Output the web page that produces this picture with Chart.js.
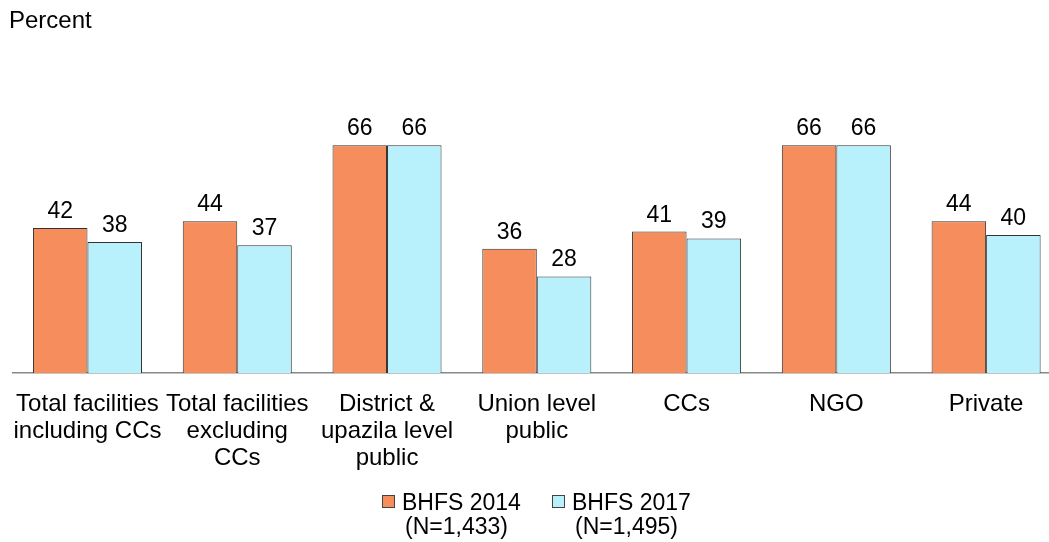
<!DOCTYPE html>
<html><head><meta charset="utf-8">
<script src="https://cdn.jsdelivr.net/npm/chart.js@4/dist/chart.umd.min.js"></script>
<style>html,body{margin:0;padding:0;background:#fff;overflow:hidden;}#wrap{width:1049px;height:542px;position:relative;overflow:hidden;}</style>
</head><body><div id="wrap"><canvas id="c" width="1062" height="542"></canvas></div>
<script>
const categories = [
  ["Total facilities","including CCs"],
  ["Total facilities","excluding","CCs"],
  ["District &","upazila level","public"],
  ["Union level","public"],
  ["CCs"],
  ["NGO"],
  ["Private"]
];
const series2014 = [42, 44, 66, 36, 41, 66, 44];
const series2017 = [38, 37, 66, 28, 39, 66, 40];
const seriesLabels = [["BHFS 2014","(N=1,433)"],["BHFS 2017","(N=1,495)"]];
const colors = ["#F58D5C", "#B8F0FC"];
const FONT = "'Liberation Sans', Arial, sans-serif";

const extras = {
  id: 'extras',
  afterDatasetsDraw(chart) {
    const ctx = chart.ctx;
    ctx.save();
    ctx.fillStyle = '#000';
    ctx.font = '23px ' + FONT;
    ctx.textAlign = 'center';
    ctx.textBaseline = 'alphabetic';
    chart.data.datasets.forEach((ds, di) => {
      chart.getDatasetMeta(di).data.forEach((bar, i) => {
        ctx.fillText(String(ds.data[i]), bar.x, bar.y - 10);
      });
    });
    // y title
    ctx.textAlign = 'left';
    ctx.font = '24px ' + FONT;
    ctx.fillText('Percent', 9, 28);
    // legend
    ctx.font = '23px ' + FONT;
    const items = [{x: 382, tx: 402}, {x: 552, tx: 572}];
    items.forEach((it, k) => {
      ctx.fillStyle = colors[k];
      ctx.strokeStyle = '#444';
      ctx.lineWidth = 1;
      ctx.fillRect(it.x + 0.5, 495.5, 12, 12);
      ctx.strokeRect(it.x + 0.5, 495.5, 12, 12);
      ctx.fillStyle = '#000';
      ctx.fillText(seriesLabels[k][0], it.tx, 510);
      ctx.fillText(seriesLabels[k][1], it.tx + 3, 534);
    });
    ctx.restore();
  }
};

new Chart(document.getElementById('c'), {
  type: 'bar',
  data: {
    labels: categories,
    datasets: [
      {label: seriesLabels[0].join(' '), data: series2014, backgroundColor: colors[0], borderColor: '#333', borderWidth: 1, borderSkipped: 'bottom'},
      {label: seriesLabels[1].join(' '), data: series2017, backgroundColor: colors[1], borderColor: '#333', borderWidth: 1, borderSkipped: 'bottom'}
    ]
  },
  options: {
    responsive: false,
    animation: false,
    layout: {padding: {left: 12.6, right: 1, top: 97, bottom: 0}},
    categoryPercentage: 0.728,
    barPercentage: 1.0,
    plugins: {legend: {display: false}, tooltip: {enabled: false}, title: {display: false}},
    scales: {
      y: {display: false, min: 0, max: 80},
      x: {
        grid: {display: false, drawTicks: false},
        border: {display: true, color: '#888', width: 1.5},
        ticks: {color: '#000', font: {family: FONT, size: 24, lineHeight: 1.125}, padding: 18, maxRotation: 0, autoSkip: false},
        afterFit(scale) { scale.height = 169; scale.paddingLeft = 0; scale.paddingRight = 0; }
      }
    }
  },
  plugins: [extras]
});
</script>
</body></html>
